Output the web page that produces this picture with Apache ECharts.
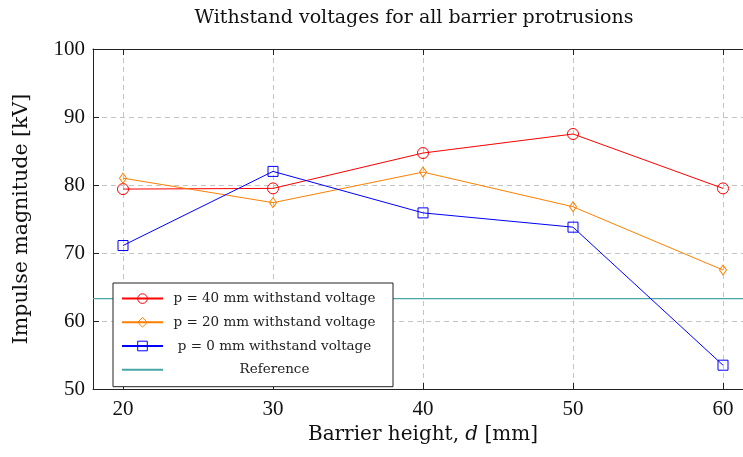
<!DOCTYPE html>
<html>
<head>
<meta charset="utf-8">
<script src="https://cdn.jsdelivr.net/npm/echarts@6/dist/echarts.min.js"></script>
<style>html,body{margin:0;padding:0;background:#fff;overflow:hidden;}#c{width:743px;height:457px;}</style>
</head>
<body>
<div id="c"></div>
<script>
const heights = [20, 30, 40, 50, 60];
const p40 = [79.4, 79.5, 84.7, 87.5, 79.5];
const p20 = [81.0, 77.4, 81.9, 76.8, 67.5];
const p0 = [71.1, 82.0, 75.9, 73.8, 53.5];
const referenceValue = 63.3;
const xRange = [18, 62];
const names = ['p = 40 mm withstand voltage', 'p = 20 mm withstand voltage', 'p = 0 mm withstand voltage', 'Reference'];

const pair = arr => heights.map((h, i) => [h, arr[i]]);
const serif = 'Liberation Serif';
const serifWide = 'DejaVu Serif';
const axisColor = '#222';
const dash = { color: '#c4c4c4', type: [5, 4], width: 1 };

function lineSeries(name, data, color, symbol, size) {
  return {
    name, type: 'line', data: pair(data),
    symbol, symbolSize: size, showSymbol: true,
    lineStyle: { color, width: 1 },
    itemStyle: { color: 'rgba(255,255,255,0)', borderColor: color, borderWidth: 1 },
    emphasis: { disabled: true }, z: 3
  };
}

const chart = echarts.init(document.getElementById('c'), null, { renderer: 'canvas', width: 753, height: 457 });
chart.setOption({
  animation: false,
  backgroundColor: '#fff',
  title: {
    text: 'Withstand voltages for all barrier protrusions',
    left: 409, top: 4, textAlign: 'center',
    textStyle: { fontFamily: serifWide, fontSize: 19, fontWeight: 'normal', color: '#111' }
  },
  grid: { left: 93, right: 0, top: 49, bottom: 68, containLabel: false },
  xAxis: [{
    type: 'value', min: xRange[0], max: xRange[1],
    axisLabel: {
      fontFamily: serif, fontSize: 21, color: '#111', margin: 10,
      customValues: heights
    },
    axisTick: { show: true, inside: true, length: 6, lineStyle: { color: axisColor }, customValues: heights },
    axisLine: { show: true, onZero: false, lineStyle: { color: axisColor, width: 1 } },
    splitLine: { show: false },
    name: '{n|Barrier height, }{i|d}{n| [mm]}', nameLocation: 'middle', nameGap: 33,
    nameTextStyle: {
      fontFamily: serifWide, fontSize: 20, color: '#111',
      rich: {
        n: { fontFamily: serifWide, fontSize: 20, color: '#111' },
        i: { fontFamily: serifWide, fontSize: 20, color: '#111', fontStyle: 'italic' }
      }
    }
  }, {
    type: 'value', position: 'top', min: xRange[0], max: xRange[1],
    axisLabel: { show: false, customValues: heights },
    axisTick: { show: true, inside: true, length: 6, lineStyle: { color: axisColor }, customValues: heights },
    axisLine: { show: true, onZero: false, lineStyle: { color: axisColor, width: 1 } },
    splitLine: { show: true, showMinLine: true, showMaxLine: true, lineStyle: dash }
  }],
  yAxis: {
    type: 'value', min: 50, max: 100, interval: 10,
    axisLabel: { fontFamily: serif, fontSize: 21, color: '#111', margin: 8 },
    axisTick: { show: true, inside: true, length: 6, lineStyle: { color: axisColor } },
    axisLine: { show: true, onZero: false, lineStyle: { color: axisColor, width: 1 } },
    splitLine: { show: true, lineStyle: dash },
    name: 'Impulse magnitude [kV]', nameLocation: 'middle', nameGap: 61,
    nameTextStyle: { fontFamily: serifWide, fontSize: 20.5, color: '#111' }
  },
  legend: {
    orient: 'vertical', left: 113, top: 283,
    backgroundColor: '#fff', borderColor: '#222', borderWidth: 1, borderRadius: 0,
    padding: [8.6, 12, 10, 8],
    itemWidth: 41, itemHeight: 12, itemGap: 9.7,
    itemStyle: { borderWidth: 1 },
    data: [
      { name: names[0] }, { name: names[1] }, { name: names[2] },
      { name: names[3], itemStyle: { color: 'rgba(0,0,0,0)', borderWidth: 0, opacity: 0 } }
    ],
    formatter: n => '{a|' + n + '}',
    textStyle: {
      rich: { a: { width: 213, align: 'center', fontFamily: serifWide, fontSize: 13.5, color: '#222', lineHeight: 12 } }
    },
    selectedMode: false
  },
  series: [
    lineSeries(names[0], p40, '#ff0000', 'circle', 11),
    lineSeries(names[1], p20, '#ff8000', 'diamond', [7, 10]),
    lineSeries(names[2], p0, '#0000ff', 'rect', 10),
    {
      name: names[3], type: 'line', data: [[xRange[0], referenceValue], [xRange[1], referenceValue]],
      showSymbol: false, symbol: 'none',
      lineStyle: { color: '#4aa6a6', width: 1.2 },
      itemStyle: { color: '#4aa6a6' }, z: 2
    }
  ]
});
</script>
</body>
</html>
